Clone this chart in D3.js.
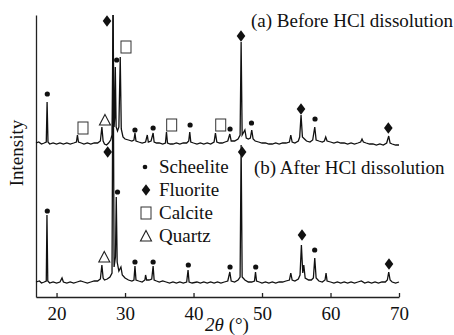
<!DOCTYPE html>
<html>
<head>
<meta charset="utf-8">
<script src="https://cdn.jsdelivr.net/npm/d3@7"></script>
<style>
  body { margin: 0; background: #fff; }
</style>
</head>
<body>
<script>
// XRD patterns, [2theta, intensity] (arbitrary units)
const patternA = [
  [17.0,14],[17.4,15],[17.8,13],[18.2,14],[18.5,15],[18.62,55],[18.75,15],[19.0,13],[19.5,14],[20.0,13],
  [20.5,14],[21.0,13],[21.5,14],[22.0,13],[22.5,14],[22.9,15],[23.05,22],[23.2,15],[23.6,14],[24.0,13],
  [24.5,14],[25.0,13],[25.5,14],[26.0,14],[26.4,16],[26.62,30],[26.8,16],[27.0,13],[27.3,12],[27.6,14],
  [27.9,17],[28.1,22],[28.25,142],[28.4,30],[28.5,40],[28.58,90],[28.7,30],[28.9,26],[29.1,30],[29.3,100],
  [29.45,28],[29.7,20],[30.0,18],[30.5,17],[31.0,16],[31.3,17],[31.45,24],[31.6,16],[32.0,15],[32.5,14],
  [33.0,15],[33.25,22],[33.4,15],[33.8,16],[34.1,24],[34.25,15],[34.6,14],[35.0,14],[35.5,13],[35.9,14],
  [36.05,25],[36.2,14],[36.6,13],[37.0,13],[37.5,14],[38.0,13],[38.5,14],[39.0,14],[39.3,16],[39.45,25],
  [39.6,15],[40.0,14],[40.5,13],[41.0,14],[41.5,13],[42.0,14],[42.5,13],[43.0,15],[43.2,24],[43.4,15],
  [43.8,14],[44.2,14],[44.6,15],[45.0,16],[45.3,23],[45.5,16],[46.0,16],[46.5,18],[46.8,22],[46.95,115],
  [47.1,22],[47.5,27],[47.7,19],[48.0,18],[48.3,19],[48.5,27],[48.7,18],[49.0,16],[49.5,15],[50.0,14],
  [50.5,14],[51.0,13],[51.5,13],[52.0,14],[52.5,13],[53.0,14],[53.5,14],[54.0,15],[54.2,22],[54.4,15],
  [54.8,14],[55.3,16],[55.5,20],[55.7,42],[55.9,20],[56.2,18],[56.5,16],[57.0,15],[57.4,17],[57.7,30],
  [57.9,17],[58.3,16],[58.8,15],[59.1,16],[59.3,20],[59.5,16],[60.0,15],[60.5,14],[61.0,15],[61.5,14],
  [62.0,14],[62.5,13],[63.0,14],[63.5,13],[64.0,14],[64.4,15],[64.6,18],[64.8,15],[65.2,14],[65.7,13],
  [66.2,13],[66.7,12],[67.2,13],[67.7,12],[68.2,14],[68.5,21],[68.7,14],[69.0,13],[69.5,12],[70.0,12]
];

const patternB = [
  [17.0,15],[17.5,16],[17.8,14],[18.2,15],[18.5,16],[18.6,82],[18.72,16],[19.0,14],[19.5,15],[20.0,14],
  [20.5,15],[20.8,19],[21.0,15],[21.5,14],[22.0,15],[22.5,14],[23.0,15],[23.5,16],[24.0,15],[24.5,14],
  [25.0,15],[25.5,16],[26.0,16],[26.4,18],[26.62,32],[26.8,19],[27.0,17],[27.4,18],[27.8,20],[28.1,24],
  [28.25,282],[28.4,30],[28.6,40],[28.72,100],[28.85,35],[29.1,26],[29.4,30],[29.6,22],[30.0,19],[30.5,17],
  [31.0,16],[31.3,17],[31.45,31],[31.6,17],[32.0,16],[32.5,15],[32.9,17],[33.0,22],[33.15,17],[33.5,17],
  [33.9,18],[34.1,31],[34.25,17],[34.6,16],[35.0,15],[35.5,16],[36.0,15],[36.5,14],[37.0,15],[37.5,14],
  [38.0,15],[38.5,14],[39.0,15],[39.2,27],[39.35,15],[39.8,14],[40.5,15],[41.0,14],[41.5,15],[42.0,14],
  [42.5,15],[43.0,14],[43.5,15],[44.0,14],[44.5,15],[45.0,16],[45.3,25],[45.5,16],[46.0,15],[46.5,17],
  [46.8,20],[46.95,152],[47.1,20],[47.5,17],[48.0,15],[48.5,15],[48.9,16],[49.05,25],[49.2,16],[49.6,15],
  [50.0,14],[50.5,15],[51.0,14],[51.5,15],[52.0,14],[52.5,15],[53.0,15],[53.5,16],[54.0,17],[54.2,24],
  [54.4,17],[54.8,16],[55.3,18],[55.55,22],[55.75,52],[55.95,24],[56.1,32],[56.3,19],[56.8,17],[57.2,17],
  [57.5,19],[57.7,39],[57.9,19],[58.3,16],[58.8,15],[59.2,17],[59.35,24],[59.5,16],[60.0,15],[60.5,14],
  [61.0,15],[61.5,14],[62.0,15],[62.5,14],[63.0,15],[63.5,14],[64.0,15],[64.5,16],[65.0,14],[65.5,15],
  [66.0,14],[66.5,15],[67.0,14],[67.5,15],[68.0,15],[68.3,17],[68.5,25],[68.7,17],[69.0,15],[69.5,14],
  [70.0,15]
];

// phase markers [2theta, intensity, phase]
const markersA = [
  [18.65,63,"S"],[23.86,29,"C"],[27.07,37,"Q"],[27.37,136,"F"],[28.78,97,"S"],[30.14,110,"C"],
  [31.45,27,"S"],[34.1,29,"S"],[36.81,32,"C"],[39.5,32,"S"],[43.97,32,"C"],[45.33,28,"S"],
  [46.93,121,"F"],[48.46,34,"S"],[55.69,48,"F"],[57.74,38,"S"],[68.44,29,"F"]
];
const markersB = [
  [18.65,86,"S"],[26.97,40,"Q"],[27.47,145,"F"],[28.9,105,"S"],[31.45,35,"S"],[34.1,35,"S"],
  [39.24,32,"S"],[45.33,30,"S"],[47.1,145,"F"],[49.08,30,"S"],[55.84,62,"F"],[57.69,47,"S"],
  [68.54,33,"F"]
];

const offsetA = 140;
const xTicks = [20, 30, 40, 50, 60, 70];
const legendItems = [["S","Scheelite"],["F","Fluorite"],["C","Calcite"],["Q","Quartz"]];

const serif = "'Liberation Serif', 'Times New Roman', Times, serif";
const width = 454, height = 335;
const svg = d3.select("body").append("svg")
    .attr("width", width)
    .attr("height", height);

const x = d3.scaleLinear().domain([17, 70]).range([36, 399]);
const y = d3.scaleLinear().domain([0, 282]).range([297, 15]);

// axes
svg.append("g")
    .attr("transform", "translate(0,297)")
    .call(d3.axisBottom(x).tickValues(xTicks).tickSizeInner(-4).tickSizeOuter(0).tickPadding(10))
    .call(g => g.selectAll("path,line").attr("stroke", "#222").attr("stroke-width", 1.3))
    .call(g => g.selectAll("text").style("font-size", "19px").style("font-family", serif).attr("fill", "#111"));

svg.append("g")
    .attr("transform", "translate(36,0)")
    .call(d3.axisLeft(y).tickValues([]).tickSizeOuter(0))
    .call(g => g.select("path").attr("stroke", "#222").attr("stroke-width", 1.3));

// patterns
const line = off => d3.line().x(d => x(d[0])).y(d => y(d[1] + off));

svg.append("path").datum(patternB)
    .attr("d", line(0))
    .attr("fill", "none").attr("stroke", "#111").attr("stroke-width", 1.3);

svg.append("path").datum(patternA)
    .attr("d", line(offsetA))
    .attr("fill", "none").attr("stroke", "#111").attr("stroke-width", 1.3);

// marker glyphs
function glyph(sel, type, scale) {
  const k = scale || 1;
  if (type === "S") {
    sel.append("circle").attr("r", 2.6 * k).attr("fill", "#111");
  } else if (type === "F") {
    sel.append("path").attr("d", `M0,${-5.8*k}L${4.3*k},0L0,${5.8*k}L${-4.3*k},0Z`).attr("fill", "#111");
  } else if (type === "C") {
    sel.append("rect").attr("x", -5 * k).attr("y", -6 * k).attr("width", 10 * k).attr("height", 12 * k)
        .attr("fill", "none").attr("stroke", "#333").attr("stroke-width", 1);
  } else if (type === "Q") {
    sel.append("path").attr("d", `M0,${-5.5*k}L${5.5*k},${5*k}L${-5.5*k},${5*k}Z`)
        .attr("fill", "none").attr("stroke", "#222").attr("stroke-width", 1.1);
  }
}

function drawMarkers(data, off) {
  svg.append("g").selectAll("g")
    .data(data)
    .enter()
    .append("g")
    .attr("transform", d => `translate(${x(d[0])},${y(d[1] + off)})`)
    .each(function (d) { glyph(d3.select(this), d[2]); });
}
drawMarkers(markersA, offsetA);
drawMarkers(markersB, 0);

function label(sel) {
  return sel.append("text").style("font-family", serif).style("font-size", "19px").attr("fill", "#111");
}

// legend
const leg = svg.append("g").attr("transform", "translate(146,167)");
legendItems.forEach((it, i) => {
  const row = leg.append("g").attr("transform", `translate(0,${i * 23})`);
  glyph(row.append("g").attr("transform", i === 0 ? "translate(-1,0)" : "translate(0,0)"), it[0], i === 0 ? 0.9 : 1);
  label(row).attr("x", 13).attr("y", 6).text(it[1]);
});

// labels
label(svg).attr("x", 251).attr("y", 27).text("(a) Before HCl dissolution");
label(svg).attr("x", 254).attr("y", 174).text("(b) After HCl dissolution");

label(svg)
    .attr("transform", "translate(23,153) rotate(-90)")
    .attr("text-anchor", "middle")
    .text("Intensity");

const xl = label(svg).attr("x", 227).attr("y", 331).attr("text-anchor", "middle");
xl.append("tspan").attr("font-style", "italic").text("2θ");
xl.append("tspan").text(" (°)");
</script>
</body>
</html>
